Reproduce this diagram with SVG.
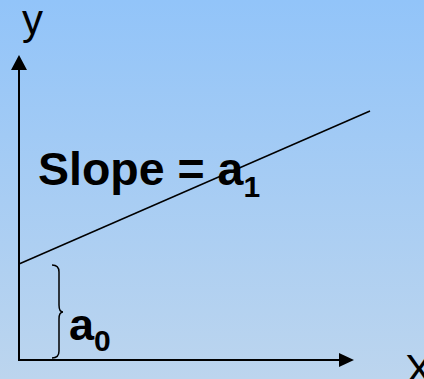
<svg xmlns="http://www.w3.org/2000/svg" width="424" height="379" viewBox="0 0 424 379">
<defs>
<linearGradient id="bg" x1="0" y1="0" x2="0" y2="1">
<stop offset="0" stop-color="#92C4F9"/>
<stop offset="1" stop-color="#BCD5EE"/>
</linearGradient>
<style>
.ax{stroke:#000;stroke-width:2;fill:none}
.lbl{font-family:"Liberation Sans",Arial,sans-serif;fill:#000}
.b{font-weight:bold}
</style>
</defs>
<rect width="424" height="379" fill="url(#bg)"/>
<g id="axes">
<line class="ax" x1="19" y1="361" x2="19" y2="68"/>
<polygon points="19,55 11,70 27,70" fill="#000"/>
<line class="ax" x1="18" y1="360" x2="341" y2="360"/>
<polygon points="354,360 339,353 339,367" fill="#000"/>
</g>
<g id="connectors">
<line x1="19" y1="264" x2="370" y2="111" stroke="#000" stroke-width="1.5"/>
<path d="M52,265 Q59,265 59,272 L59,305 Q59,312 63,312 Q59,312 59,319 L59,351 Q59,358 52,358" fill="none" stroke="#000" stroke-width="1.5"/>
</g>
<g id="labels">
<text class="lbl" x="22" y="34" font-size="42">y</text>
<text class="lbl" x="405" y="384" font-size="42">X</text>
<text class="lbl b" x="38" y="185" font-size="46.5">Slope = a<tspan font-size="30" y="197">1</tspan></text>
<text class="lbl b" x="69" y="340" font-size="45">a<tspan font-size="30" y="351">0</tspan></text>
</g>
</svg>
